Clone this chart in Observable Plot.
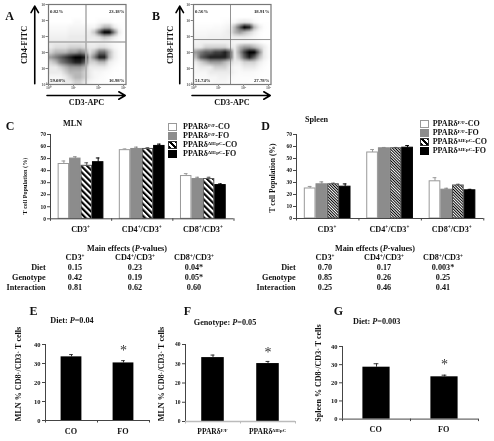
<!DOCTYPE html>
<html><head><meta charset="utf-8">
<script src="https://cdn.jsdelivr.net/npm/d3@7"></script>
<script src="https://cdn.jsdelivr.net/npm/@observablehq/plot@0.6"></script>
<style>
html,body{margin:0;padding:0;background:#fff}
#fig{position:relative;width:494px;height:441px;overflow:hidden;font-family:"Liberation Serif",serif;font-weight:bold;color:#111;background:#fff;filter:blur(.35px)}
#fig svg{position:absolute;overflow:visible;background:transparent}
.t{position:absolute;white-space:nowrap;line-height:1;transform:translate(-50%,-50%)}
.t sup{font-size:.62em;line-height:0;vertical-align:baseline;position:relative;top:-.4em}
.r{transform:translate(-100%,-50%)}
.sw{position:absolute;box-sizing:border-box;width:9px;height:8px}
</style></head><body><div id="fig"></div>
<script>
// ---------- data ----------
const seriesNames = ["F/F-CO","F/F-FO","ΔIEpC-CO","ΔIEpC-FO"];
const groupLabels = ["CD3<sup>+</sup>","CD4<sup>+</sup>/CD3<sup>+</sup>","CD8<sup>+</sup>/CD3<sup>+</sup>"];
const mlnValues = [[45.5,50,44,47],[57,58,58,60.5],[35.5,33,33,28]];
const mlnErrors = [[48,51.5,46.5,50.5],[58,59.5,59,62],[37.5,34.5,34.5,29]];
const spleenValues = [[25,28.5,28.5,26.5],[55,58.5,58.5,59],[31,24,27.5,23.5]];
const spleenErrors = [[26.7,30.5,29.4,28.8],[57.5,59.2,59.2,60.8],[34,25.2,28.5,24.3]];
const yTicks70 = [0,10,20,30,40,50,60,70];
const yTicks40 = [0,10,20,30,40];

const eCats = ["CO","FO"], eValues = [33.5,30.3], eErrors = [34.7,31.5];
const fCats = ["PPARδ<sup>F/F</sup>","PPARδ<sup>ΔIEpC</sup>"], fValues = [33.2,30.1], fErrors = [34.5,31.2];
const gCats = ["CO","FO"], gValues = [28.6,23.3], gErrors = [30.5,24.2];

const tableRows = ["Diet","Genotype","Interaction"];
const mlnP = [["0.15","0.23","0.04*"],["0.42","0.19","0.05*"],["0.81","0.62","0.60"]];
const spleenP = [["0.70","0.17","0.003*"],["0.85","0.26","0.25"],["0.25","0.46","0.41"]];

const flowAPct = ["0.82%","23.18%","59.08%","16.98%"];
const flowBPct = ["0.56%","18.91%","51.74%","27.78%"];
// darkness of the dot plots, estimated cell by cell (top row first)
const flowADensity = [
[0,0,0,0,0,0,0,0,0,0,0,0,0,0,0,0],
[0,0,0,0,0,0,0,0,0,0,0,0,0,0,0,0],
[0,0,0,0,0,0,0,0,0,0,0,0,0,0,0,0],
[0,0,0,0,0,.3,.3,0,0,0,.3,.3,.3,0,0,0],
[.3,.3,.3,.3,.5,.5,.5,.5,.5,.5,1.5,3,3,1,.3,0],
[.5,.5,.5,.5,.7,.7,.7,.7,1,2.5,6,9,9,5,1,0],
[.7,.7,.7,.7,1,1,1,1,1,1,1.5,2.5,2,1,.3,0],
[1,1,1,1,1,1,1,1,.7,.7,.7,.7,.5,.3,.2,0],
[1,1.5,1.5,1.5,2,2,2,1.5,1,1,1.5,1.5,1,.5,.2,0],
[2,3,3,3,4,4,5,4,1.5,3,5.5,5.5,3,1,.3,0],
[4,5,6,7,8,9,9,8,2.5,5,8,8,3,1,.3,0],
[2,3,5,6,7,8,8,6,2,2,3,3,1,.5,.2,0],
[1,1,2,3,4,4,4,3,1,1,1,1,.5,.2,0,0],
[1,1,1,2,3,3,3,2,1,.5,.5,.3,.2,0,0,0],
[.5,.5,.5,1,2,3,3,2,1,.5,.3,.2,0,0,0,0],
[.5,.5,.5,1,1,2,2,1,.5,.3,.2,.2,0,0,0,0]];
const flowBDensity = [
[0,0,0,0,0,0,0,0,0,0,0,0,0,0,0,0],
[0,0,0,0,0,0,0,0,0,0,0,0,0,0,0,0],
[0,0,0,0,0,0,0,0,0,0,0,0,0,0,0,0],
[0,0,0,0,0,0,.2,.3,.3,1,1.2,1,.3,0,0,0],
[.2,.2,.2,.2,.3,.3,.5,.7,3,6,9,8,3,1,.2,0],
[.4,.4,.4,.5,.5,.5,.7,1,3,4,3,2,1,.3,.1,0],
[.6,.6,.6,.7,.7,.7,.8,.8,1,1,1,.7,.4,.2,0,0],
[.6,.7,.7,.7,.7,.7,.7,.7,.5,.5,.5,.5,.5,.3,.1,0],
[1,1,2,2,2,2,2,1,1,3,4,4,3,2,1,.2],
[4,5,6,6,7,7,8,6,1,4,7,9,9,5,1,.3],
[3,6,7,8,8,8,8,6,1,3,6,8,6,3,1,.3],
[1,2,3,4,4,4,3,2,1,1,2,2,2,1,.4,.1],
[.5,1,1,1,2,2,2,1,.5,.5,1,1,1,.5,.2,0],
[.5,.5,.5,1,1,1,1,1,.5,.3,.4,.4,.3,.2,.1,0],
[.3,.3,.3,.5,.5,.7,.7,.5,.3,.2,.2,.2,.2,.1,0,0],
[.3,.3,.3,.3,.5,.5,.5,.3,.2,.2,.2,.1,.1,0,0,0]];

// ---------- helpers ----------
const fig = document.getElementById("fig");
const FONT = '"Liberation Serif", serif';
const ROT = "transform:translate(-50%,-50%) rotate(-90deg)";
function label(html, x, y, size, cls="", extra=""){
  const d = document.createElement("div");
  d.className = "t " + cls; d.innerHTML = html;
  d.style.cssText = `left:${x}px;top:${y}px;font-size:${size}px;${extra}`;
  fig.appendChild(d); return d;
}
function place(plot, left, top){ plot.style.left = left+"px"; plot.style.top = top+"px"; fig.appendChild(plot); return plot; }
const hatchDefs = (id, size, w) => () => {
  const s = d3.create("svg:g");
  const p = s.append("defs").append("pattern").attr("id",id).attr("width",size).attr("height",size)
    .attr("patternUnits","userSpaceOnUse").attr("patternTransform","rotate(-45)");
  p.append("rect").attr("width",size).attr("height",size).attr("fill","#fff");
  p.append("rect").attr("width",w).attr("height",size).attr("fill","#000");
  return s.node();
};

// ---------- flow panels ----------
function flow({left, xMax, density, pct, vx, hy, lineColor, lineWidth, yName}){
  const rows = density.length, cols = density[0].length;
  const w = 77.5, h = 80, ml = 20, mr = 6, mt = 4, mb = 22;
  const arrows = [{x1:-.55,y1:.05,x2:-.55,y2:4.9},{x1:-.06,y1:-.69,x2:xMax-.03,y2:-.69}];
  const p = Plot.plot({
    width:w+ml+mr, height:h+mt+mb, marginLeft:ml, marginRight:mr, marginTop:mt, marginBottom:mb,
    style:{fontFamily:FONT,fontWeight:"bold",background:"transparent",overflow:"visible"},
    x:{domain:[0,xMax]}, y:{domain:[0,5]},
    color:{type:"pow",exponent:1.15,domain:[0,9],range:["#fff","#000"]},
    marks:[
      Plot.raster(density.flat(),{width:cols,height:rows,x1:0,x2:xMax,y1:5,y2:0,fill:d=>d}),
      Plot.ruleX([vx],{stroke:lineColor,strokeWidth:lineWidth}),
      Plot.ruleY([hy],{stroke:lineColor,strokeWidth:lineWidth}),
      Plot.frame({stroke:"#777",strokeWidth:1.2}),
      Plot.axisX({ticks:[0,1,2,3],tickSize:2,tickPadding:0,fontSize:4,stroke:"#888",fill:"#666",label:null,
        tickFormat:d=>"10"+"⁰¹²³"[d]}),
      Plot.axisY({ticks:[0,1,2,3,4,5],tickSize:2,tickPadding:0,fontSize:4,stroke:"#888",fill:"#666",label:null,
        tickFormat:d=>"10"+"⁰¹²³⁴⁵"[d]}),
      Plot.text([pct[0]],{frameAnchor:"top-left",dx:1.5,dy:5,fontSize:4.8,text:d=>d,fill:"#222"}),
      Plot.text([pct[1]],{frameAnchor:"top-right",dx:-1.5,dy:5,fontSize:4.8,text:d=>d,fill:"#222"}),
      Plot.text([pct[2]],{frameAnchor:"bottom-left",dx:1.5,dy:-3,fontSize:4.8,text:d=>d,fill:"#222"}),
      Plot.text([pct[3]],{frameAnchor:"bottom-right",dx:-1.5,dy:-3,fontSize:4.8,text:d=>d,fill:"#222"}),
      Plot.arrow(arrows,{x1:"x1",y1:"y1",x2:"x2",y2:"y2",bend:0,headLength:7,stroke:"#000",strokeWidth:1.6,inset:0})
    ]});
  place(p, left-ml, 0);
  label(yName, left-22.5, 45, 8.2, "", ROT);
  label("CD3-APC", left+39, 103, 8.2);
}
flow({left:47.5,xMax:3.1,density:flowADensity,pct:flowAPct,vx:1.5,hy:2.66,lineColor:"#aaa",lineWidth:1.5,yName:"CD4-FITC"});
flow({left:193,xMax:3.1,density:flowBDensity,pct:flowBPct,vx:1.48,hy:2.81,lineColor:"#777",lineWidth:.8,yName:"CD8-FITC"});

// ---------- grouped bars ----------
const fills = hatch => ["#fff","#8c8c8c",`url(#${hatch})`,"#000"];
const strokes = ["#999","#8c8c8c","#555","#000"];
function grouped({x0,x1,y0,y70,values,errors,hatch,hs,hw}){
  const ml=32, mr=6, mt=6, mb=8;
  const rows = [];
  values.forEach((g,i)=>g.forEach((v,s)=>rows.push({i,s,v,e:errors[i][s]})));
  const off = 0.125, bw = 0.187;
  const xa = d=>d.i+off+d.s*bw, xb = d=>xa(d)+bw, xc = d=>xa(d)+bw/2;
  const p = Plot.plot({
    width:(x1-x0)+ml+mr, height:(y0-y70)+mt+mb, marginLeft:ml, marginRight:mr, marginTop:mt, marginBottom:mb,
    style:{fontFamily:FONT,fontWeight:"bold",background:"transparent",overflow:"visible"},
    x:{domain:[0,values.length]}, y:{domain:[0,70]},
    marks:[
      hatchDefs(hatch,hs,hw),
      Plot.ruleX(rows,{x:xc,y1:"v",y2:"e",stroke:d=>strokes[d.s],strokeWidth:1}),
      Plot.ruleY(rows,{y:"e",x1:d=>xc(d)-.03,x2:d=>xc(d)+.03,stroke:d=>strokes[d.s],strokeWidth:1}),
      Plot.rectY(rows,{x1:xa,x2:xb,y:"v",fill:d=>fills(hatch)[d.s],stroke:d=>strokes[d.s],strokeWidth:1,insetLeft:.5,insetRight:.5}),
      Plot.ruleX([0],{stroke:"#444"}),
      Plot.ruleY([0],{stroke:"#444"}),
      Plot.axisY({ticks:yTicks70,tickSize:3,tickPadding:1.5,fontSize:5.5,stroke:"#444",label:null}),
      Plot.axisX({ticks:d3.range(values.length+1),tickSize:2.5,tickFormat:()=>"",label:null,stroke:"#444"})
    ]});
  place(p, x0-ml, y70-mt);
  return p;
}
const cPlot = grouped({x0:50,x1:233.5,y0:218.3,y70:134,values:mlnValues,errors:mlnErrors,hatch:"hC",hs:4.2,hw:2.1});
const dPlot = grouped({x0:295.7,x1:483,y0:218,y70:134,values:spleenValues,errors:spleenErrors,hatch:"hD",hs:2,hw:1});
groupLabels.forEach((g,i)=>{
  label(g, 50+cPlot.scale("x").apply(i+.5)-32, 229.5, 8.2);
  label(g, 295.7+dPlot.scale("x").apply(i+.5)-32, 229.5, 8.2);
});
label("T cell Population (%)",25,186,6.2,"",ROT);
label("T cell Population (%)",273,178,7.5,"",ROT);

// legends
function legend(x, ys, txtX, hatchCss){
  const bgs = ["#fff","#8c8c8c",hatchCss,"#000"];
  const bd = ["#999","#8c8c8c","#333","#000"];
  seriesNames.forEach((n,i)=>{
    const s = document.createElement("div"); s.className="sw";
    s.style.cssText=`left:${x}px;top:${ys[i]-4}px;background:${bgs[i]};border:1px solid ${bd[i]};`;
    fig.appendChild(s);
    const k = n.lastIndexOf("-");
    label(`PPARδ<sup>${n.slice(0,k)}</sup>-${n.slice(k+1)}`, txtX, ys[i], 8, "", "transform:translate(0,-50%)");
  });
}
const bigHatch = "repeating-linear-gradient(45deg,#000 0 2px,#fff 2px 4px)";
legend(168,[127,136,145,154],183,bigHatch);
legend(420,[123.5,132.5,141.5,151],432.7,bigHatch);
label("MLN",72.5,124,8.2);
label("Spleen",316.5,120,8.2);

// ---------- P-value tables ----------
function table(rowX, cols, titleX, vals){
  label('Main effects (<i>P</i>-values)', titleX, 248.7, 8.2);
  groupLabels.forEach((g,i)=>label(g, cols[i], 258, 8.2));
  tableRows.forEach((r,j)=>{
    const y = 268.3+j*10;
    label(r,rowX,y,8.2,"r");
    vals[j].forEach((v,i)=>label(v,cols[i],y,8.2));
  });
}
table(45.7,[75,135,194],127,mlnP);
table(295.7,[325,384,443],375,spleenP);

// ---------- simple two-bar panels ----------
function twoBar({x0,x1,y0,y40,cats,values,errors,pad,axisColor,axisWidth,labY,labSize,star,fs}){
  const ml=30,mr=4,mt=6,mb=8;
  const rows = values.map((v,i)=>({i,v,e:errors[i]}));
  const p = Plot.plot({
    width:(x1-x0)+ml+mr, height:(y0-y40)+mt+mb, marginLeft:ml, marginRight:mr, marginTop:mt, marginBottom:mb,
    style:{fontFamily:FONT,fontWeight:"bold",background:"transparent",overflow:"visible"},
    x:{domain:[0,2]}, y:{domain:[0,40]},
    marks:[
      Plot.ruleX(rows,{x:d=>d.i+.5,y1:"v",y2:"e",stroke:"#333",strokeWidth:1}),
      Plot.ruleY(rows,{y:"e",x1:d=>d.i+.5-.035,x2:d=>d.i+.5+.035,stroke:"#333",strokeWidth:1}),
      Plot.rectY(rows,{x1:d=>d.i+pad,x2:d=>d.i+1-pad,y:"v",fill:"#000"}),
      Plot.ruleX([0],{stroke:"#444"}),
      Plot.ruleY([0],{stroke:axisColor,strokeWidth:axisWidth}),
      Plot.axisY({ticks:yTicks40,tickSize:3,tickPadding:2,fontSize:fs,stroke:"#444",label:null}),
      Plot.axisX({ticks:[0,1,2],tickSize:2.5,tickFormat:()=>"",label:null,stroke:axisColor}),
      Plot.text([star],{x:"x",y:"y",text:()=>"*",fontSize:14,fontWeight:"normal",fill:"#333"})
    ]});
  place(p,x0-ml,y40-mt);
  const sx=p.scale("x").apply;
  cats.forEach((c,i)=>label(c,x0+sx(i+.5)-ml,labY,labSize));
}
twoBar({x0:45,x1:149,y0:420.3,y40:344.3,cats:eCats,values:eValues,errors:eErrors,pad:.3,axisColor:"#444",axisWidth:1,labY:432,labSize:8.2,star:{x:1.5,y:37},fs:6.5});
twoBar({x0:185,x1:295,y0:420.7,y40:343.7,cats:fCats,values:fValues,errors:fErrors,pad:.295,axisColor:"#bbb",axisWidth:1.5,labY:432,labSize:7.5,star:{x:1.5,y:36},fs:5.5});
twoBar({x0:341.7,x1:477.7,y0:418.3,y40:345.7,cats:gCats,values:gValues,errors:gErrors,pad:.3,axisColor:"#444",axisWidth:1,labY:430,labSize:8.2,star:{x:1.5,y:30},fs:6.5});

label("MLN % CD8<sup>+</sup>/CD3<sup>+</sup> T cells",19,374,8.1,"",ROT);
label("MLN % CD8<sup>+</sup>/CD3<sup>+</sup> T cells",161.7,374,8.1,"",ROT);
label("Spleen % CD8<sup>+</sup>/CD3<sup>+</sup> T cells",319.3,372.7,8,"",ROT);

label('Diet: <i>P</i>=0.04',72,321,8.2);
label('Genotype: <i>P</i>=0.05',225,323,8.2);
label('Diet: <i>P</i>=0.003',376.7,322,8.2);

// panel letters
[["A",9.5,16],["B",156,16],["C",10,126],["D",265.5,126],["E",33.5,311],["F",187.5,311],["G",338.5,311]]
  .forEach(([t,x,y])=>label(t,x,y,12));
</script></body></html>
